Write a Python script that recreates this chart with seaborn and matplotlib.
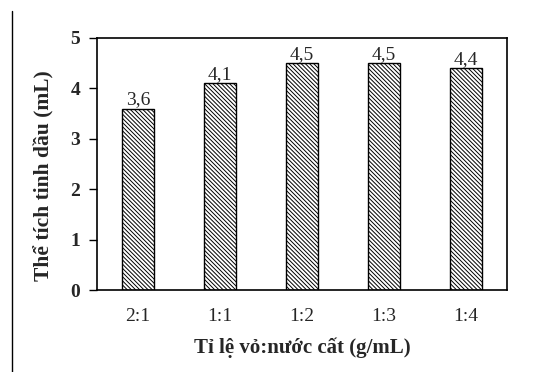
import matplotlib
matplotlib.use("Agg")
import matplotlib.pyplot as plt
from matplotlib.lines import Line2D
import seaborn as sns
import pandas as pd

ratios = ["2:1", "1:1", "1:2", "1:3", "1:4"]
volumes = [3.6, 4.1, 4.5, 4.5, 4.4]
y_ticks = [0, 1, 2, 3, 4, 5]

sns.set_theme(style="white")
plt.rcParams["font.family"] = ["Liberation Serif", "DejaVu Serif"]
plt.rcParams["hatch.linewidth"] = 0.7

df = pd.DataFrame({"ratio": ratios, "volume": volumes})

fig = plt.figure(figsize=(5.54, 3.72), dpi=100)
ax = fig.add_axes([0.175, 0.22, 0.74, 0.678])

sns.barplot(data=df, x="ratio", y="volume", color="white", edgecolor="black",
            linewidth=1.0, width=0.4, ax=ax)
for p in ax.patches:
    p.set_hatch("\\" * 8)

ax.bar_label(ax.containers[0], labels=[f"{v:.1f}".replace(".", ",") for v in volumes],
             fontsize=14, padding=0)

ax.set_ylim(0, 5)
ax.set_yticks(y_ticks)
ax.set_xlim(-0.5, 4.5)
for sp in ax.spines.values():
    sp.set_color("black")
    sp.set_linewidth(1.2)

ax.tick_params(axis="y", which="both", left=True, length=6, width=1, color="black",
               labelsize=14, pad=6)
ax.tick_params(axis="x", bottom=False, labelsize=14, pad=7)
for lbl in ax.get_yticklabels():
    lbl.set_fontweight("bold")

ax.set_ylabel("Thể tích tinh dầu (mL)", fontsize=15.5, fontweight="bold")
ax.yaxis.set_label_coords(-0.103, 0.456)
ax.set_xlabel("Tỉ lệ vỏ:nước cất (g/mL)", fontsize=15, fontweight="bold", labelpad=9)

fig.add_artist(Line2D([12 / 554, 12 / 554], [0.0, 0.97], color="black", linewidth=1.0))

fig.savefig("out.png", dpi=100)
